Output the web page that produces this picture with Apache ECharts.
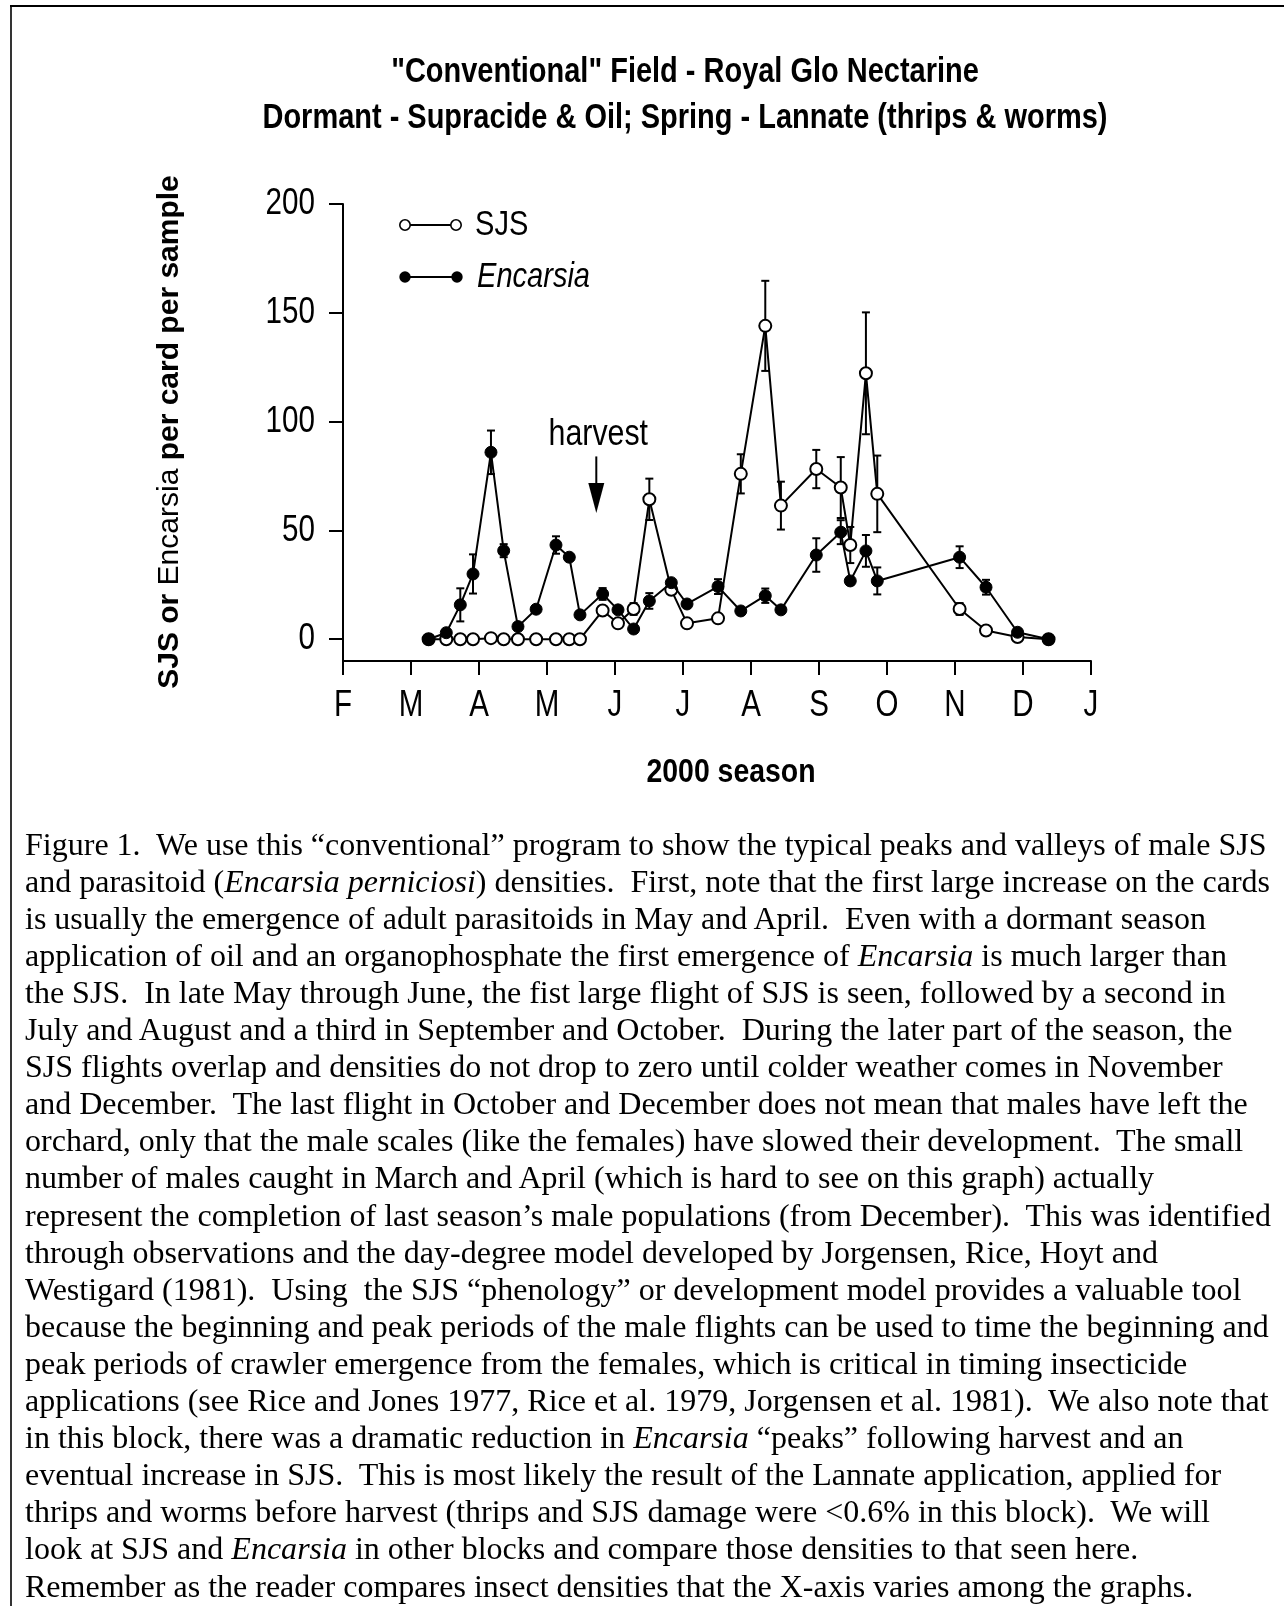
<!DOCTYPE html>
<html><head><meta charset="utf-8">
<script src="https://cdn.jsdelivr.net/npm/echarts@6/dist/echarts.min.js"></script>
<style>
html,body{margin:0;padding:0;background:#fff;}
#chart{position:absolute;left:0;top:0;width:1284px;height:1606px;}
#caption{position:absolute;left:25px;top:843px;font-family:"Liberation Serif","Times New Roman",serif;color:#000;white-space:pre;line-height:36px;}
</style></head><body>
<div id="chart"></div>
<div id="caption"></div>
<script>
// ---- data (x in months after Feb 1, 2000) ----
const dates  = [1.259, 1.519, 1.725, 1.912, 2.176, 2.363, 2.573, 2.84, 3.132, 3.328, 3.485, 3.818, 4.044, 4.274, 4.505, 4.828, 5.059, 5.515, 5.85, 6.21, 6.44, 6.96, 7.32, 7.46, 7.69, 7.857, 9.068, 9.456, 9.92, 10.376];
const sjs    = [0, 0, 0, 0, 0.5, 0, 0, 0, 0, 0, 0, 13.2, 7.3, 13.9, 64.3, 22.7, 7.3, 9.6, 76, 144, 61.4, 78.2, 69.7, 43.3, 122.2, 66.8, 13.9, 4, 1, 0];
const sjsErr = [0, 0, 0, 0, 0, 0, 0, 0, 0, 0, 0, 0, 0, 2.7, 9.5, 0, 0, 0, 9, 20.7, 11, 8.8, 14, 8.3, 28, 17.6, 2.7, 0, 0, 0];
const enc    = [0, 3, 15.8, 30, 85.9, 40.7, 5.8, 13.8, 43.3, 37.7, 11.2, 20.8, 13.5, 4.7, 17.6, 26, 16.2, 24.2, 13, 20, 13.5, 38.7, 49.2, 26.8, 40.6, 26.8, 37.7, 23.9, 3.2, 0];
const encErr = [0, 0, 7.6, 9, 10, 3, 0, 0, 4, 0, 0, 2.7, 0, 0, 3.6, 0, 0, 3.4, 0, 3.3, 0, 7.7, 5.5, 0, 7.3, 6.2, 5, 3.4, 0, 0];
const months = ['F', 'M', 'A', 'M', 'J', 'J', 'A', 'S', 'O', 'N', 'D', 'J'];
const yTicks = [0, 50, 100, 150, 200];
const harvestArrow = [3.725, 84, 58, 94]; // x, arrow top, arrow tip, label
const titleLines = ['"Conventional" Field - Royal Glo Nectarine', 'Dormant - Supracide & Oil; Spring - Lannate (thrips & worms)'];
const captionLines = [
 'Figure 1.  We use this \u201cconventional\u201d program to show the typical peaks and valleys of male SJS',
 'and parasitoid (<i>Encarsia perniciosi</i>) densities.  First, note that the first large increase on the cards',
 'is usually the emergence of adult parasitoids in May and April.  Even with a dormant season',
 'application of oil and an organophosphate the first emergence of <i>Encarsia</i> is much larger than',
 'the SJS.  In late May through June, the fist large flight of SJS is seen, followed by a second in',
 'July and August and a third in September and October.  During the later part of the season, the',
 'SJS flights overlap and densities do not drop to zero until colder weather comes in November',
 'and December.  The last flight in October and December does not mean that males have left the',
 'orchard, only that the male scales (like the females) have slowed their development.  The small',
 'number of males caught in March and April (which is hard to see on this graph) actually',
 'represent the completion of last season\u2019s male populations (from December).  This was identified',
 'through observations and the day-degree model developed by Jorgensen, Rice, Hoyt and',
 'Westigard (1981).  Using  the SJS \u201cphenology\u201d or development model provides a valuable tool',
 'because the beginning and peak periods of the male flights can be used to time the beginning and',
 'peak periods of crawler emergence from the females, which is critical in timing insecticide',
 'applications (see Rice and Jones 1977, Rice et al. 1979, Jorgensen et al. 1981).  We also note that',
 'in this block, there was a dramatic reduction in <i>Encarsia</i> \u201cpeaks\u201d following harvest and an',
 'eventual increase in SJS.  This is most likely the result of the Lannate application, applied for',
 'thrips and worms before harvest (thrips and SJS damage were &lt;0.6% in this block).  We will',
 'look at SJS and <i>Encarsia</i> in other blocks and compare those densities to that seen here.',
 'Remember as the reader compares insect densities that the X-axis varies among the graphs.'
];

// ---- caption (HTML text) ----
(function(){
  const cap = document.getElementById('caption');
  cap.style.fontSize = '100px';
  cap.innerHTML = '<span id="m">' + captionLines[0] + '</span>';
  const w = document.getElementById('m').getBoundingClientRect().width;
  const F = 100 * 1242 / w;
  const L = 37.1;
  cap.style.fontSize = F + 'px';
  cap.style.lineHeight = L + 'px';
  cap.innerHTML = captionLines.join('\n');
  cap.style.top = (855 - ((L - 1.107 * F) / 2 + 0.891 * F)) + 'px';
})();

// ---- chart ----
const FONT = '"Liberation Sans", Arial, sans-serif';
const mctx = document.createElement('canvas').getContext('2d');
function textW(t, f) { mctx.font = f; return mctx.measureText(t).width; }

function T(text, x, y, font, sx, align, extra) {
  const a = align || 'center';
  return Object.assign({
    type: 'text', x: x, y: y, scaleX: sx, silent: true,
    style: { text: text, font: font, fill: '#000', align: a, textAlign: a, verticalAlign: 'middle', textVerticalAlign: 'middle' }
  }, extra || {});
}

const chart = echarts.init(document.getElementById('chart'), null, { renderer: 'canvas' });

function errBar(params, api) {
  const x = api.value(0), v = api.value(1), e = api.value(2);
  const top = api.coord([x, v + e]);
  const bot = api.coord([x, v - e]);
  const hw = 4;
  const st = { stroke: '#000', lineWidth: 2 };
  return {
    type: 'group', children: [
      { type: 'line', shape: { x1: top[0], y1: top[1], x2: bot[0], y2: bot[1] }, style: st },
      { type: 'line', shape: { x1: top[0] - hw, y1: top[1], x2: top[0] + hw, y2: top[1] }, style: st },
      { type: 'line', shape: { x1: bot[0] - hw, y1: bot[1], x2: bot[0] + hw, y2: bot[1] }, style: st }
    ]
  };
}

function arrowItem(params, api) {
  const x = api.value(0);
  const top = api.coord([x, api.value(1)]);
  const tip = api.coord([x, api.value(2)]);
  const lab = api.coord([x, api.value(3)]);
  const headLen = 30, hw = 8;
  return {
    type: 'group', children: [
      { type: 'line', shape: { x1: top[0], y1: top[1], x2: tip[0], y2: tip[1] - headLen + 2 }, style: { stroke: '#000', lineWidth: 2 } },
      { type: 'polygon', shape: { points: [[tip[0] - hw, tip[1] - headLen], [tip[0] + hw, tip[1] - headLen], [tip[0], tip[1]]] }, style: { fill: '#000' } },
      { type: 'text', x: lab[0] + 2, y: lab[1], scaleX: 0.82,
        style: { text: 'harvest', font: '37px ' + FONT, fill: '#000', align: 'center', textAlign: 'center', verticalAlign: 'middle', textVerticalAlign: 'middle' } }
    ]
  };
}

const sjsPts = dates.map((d, i) => [d, sjs[i]]);
const encPts = dates.map((d, i) => [d, enc[i]]);
const errPts = dates.map((d, i) => [d, sjs[i], sjsErr[i]]).filter(p => p[2] > 0)
  .concat(dates.map((d, i) => [d, enc[i], encErr[i]]).filter(p => p[2] > 0));

const axisStyle = { color: '#000', width: 2 };
chart.setOption({
  animation: false,
  backgroundColor: '#fff',
  grid: { left: 343, top: 204, width: 748, height: 457 },
  xAxis: {
    type: 'value', min: 0, max: 11, interval: 1,
    axisLine: { show: true, onZero: false, lineStyle: axisStyle },
    axisTick: { show: true, length: 14, lineStyle: axisStyle },
    axisLabel: { show: false }, splitLine: { show: false }
  },
  yAxis: {
    type: 'value', min: -10, max: 200,
    axisLine: { show: true, onZero: false, lineStyle: axisStyle },
    axisTick: { show: true, length: 14, customValues: yTicks, lineStyle: axisStyle },
    axisLabel: { show: false }, splitLine: { show: false }
  },
  series: [
    { type: 'custom', name: 'err', renderItem: errBar, data: errPts, encode: { x: 0, y: 1 }, z: 1, silent: true },
    { type: 'line', name: 'SJS', data: sjsPts, symbol: 'circle', symbolSize: 12, showAllSymbol: true,
      lineStyle: { color: '#000', width: 2 }, itemStyle: { color: '#fff', borderColor: '#000', borderWidth: 2 },
      z: 2, silent: true, emphasis: { disabled: true } },
    { type: 'line', name: 'Encarsia', data: encPts, symbol: 'circle', symbolSize: 12, showAllSymbol: true,
      lineStyle: { color: '#000', width: 2 }, itemStyle: { color: '#000', borderColor: '#000', borderWidth: 1 },
      z: 3, silent: true, emphasis: { disabled: true } },
    { type: 'custom', name: 'harvest', renderItem: arrowItem, data: [harvestArrow], encode: { x: 0, y: 1 }, z: 4, silent: true }
  ]
});

// ---- text and decorations ----
const titleFont = 'bold 35px ' + FONT;
const titleScale = 845 / textW(titleLines[1], titleFont);
const seasonFont = 'bold 33px ' + FONT;
const seasonScale = 169 / textW('2000 season', seasonFont);

const g = [];
// border
g.push({ type: 'line', silent: true, shape: { x1: 10, y1: 6, x2: 1284, y2: 6 }, style: { stroke: '#000', lineWidth: 2 } });
g.push({ type: 'line', silent: true, shape: { x1: 11, y1: 5, x2: 11, y2: 1606 }, style: { stroke: '#000', lineWidth: 1.6 } });
// titles
g.push(T(titleLines[0], 685, 72, titleFont, titleScale));
g.push(T(titleLines[1], 685, 118, titleFont, titleScale));
// x axis title
g.push(T('2000 season', 731, 773, seasonFont, seasonScale));
// y axis title
g.push({
  type: 'text', x: 170, y: 432, rotation: Math.PI / 2, silent: true,
  style: {
    text: '{b|SJS or }{r|Encarsia}{b| per card per sample}',
    rich: { b: { font: 'bold 30px ' + FONT, fill: '#000' }, r: { font: '30px ' + FONT, fill: '#000' } },
    fill: '#000', align: 'center', textAlign: 'center', verticalAlign: 'middle', textVerticalAlign: 'middle'
  }
});
// legend
g.push({ type: 'line', silent: true, shape: { x1: 405, y1: 225, x2: 456, y2: 225 }, style: { stroke: '#000', lineWidth: 2 } });
g.push({ type: 'circle', silent: true, shape: { cx: 405, cy: 225, r: 5.2 }, style: { fill: '#fff', stroke: '#000', lineWidth: 1.6 } });
g.push({ type: 'circle', silent: true, shape: { cx: 456, cy: 225, r: 5.2 }, style: { fill: '#fff', stroke: '#000', lineWidth: 1.6 } });
g.push(T('SJS', 475, 225, '35px ' + FONT, 0.83, 'left'));
g.push({ type: 'line', silent: true, shape: { x1: 405, y1: 277, x2: 457, y2: 277 }, style: { stroke: '#000', lineWidth: 2 } });
g.push({ type: 'circle', silent: true, shape: { cx: 405, cy: 277, r: 5.7 }, style: { fill: '#000' } });
g.push({ type: 'circle', silent: true, shape: { cx: 457, cy: 277, r: 5.7 }, style: { fill: '#000' } });
g.push(T('Encarsia', 477, 277, 'italic 35px ' + FONT, 0.83, 'left'));
// tick labels placed from the axes
const axX = chart.convertToPixel({ xAxisIndex: 0 }, 0);
const axY = chart.convertToPixel({ yAxisIndex: 0 }, -10);
yTicks.forEach(v => {
  g.push(T(String(v), axX - 28, chart.convertToPixel({ yAxisIndex: 0 }, v), '37px ' + FONT, 0.8, 'right'));
});
months.forEach((m, i) => {
  g.push(T(m, chart.convertToPixel({ xAxisIndex: 0 }, i), axY + 45, '36px ' + FONT, 0.82, 'center'));
});
chart.setOption({ graphic: { elements: g } });
</script>
</body></html>
